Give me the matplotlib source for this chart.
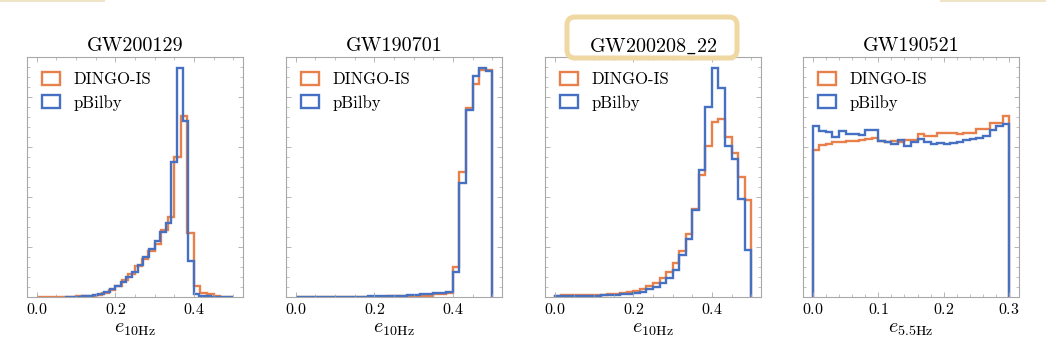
import numpy as np
import matplotlib
matplotlib.use("Agg")
import matplotlib.pyplot as plt
from matplotlib.patches import FancyBboxPatch, Rectangle, Patch
from matplotlib.ticker import AutoMinorLocator
from matplotlib.transforms import IdentityTransform

plt.rcParams["font.family"] = "serif"
plt.rcParams["font.serif"] = ["cmr10"]
plt.rcParams["mathtext.fontset"] = "cm"
plt.rcParams["axes.formatter.use_mathtext"] = True

# eccentricity posteriors, histogram heights per bin
events = ["GW200129", "GW190701", r"GW200208$\_$22", "GW190521"]
xlabels = [r"$e_{\rm 10Hz}$", r"$e_{\rm 10Hz}$", r"$e_{\rm 10Hz}$", r"$e_{\rm 5.5Hz}$"]
xticks = [[0.0, 0.2, 0.4], [0.0, 0.2, 0.4], [0.0, 0.2, 0.4], [0.0, 0.1, 0.2, 0.3]]

dingo_range = [(0.0, 0.5), (0.0, 0.5), (0.0, 0.5), (0.0, 0.3)]
bilby_range = [(0.071, 0.5), (0.0, 0.5), (0.0, 0.5), (0.0, 0.3)]

dingo_gw200129 = [0.3, 0.3, 0.3, 0.3, 0.4, 0.5, 0.6, 0.8, 1.2, 2.2, 3.7, 6.8, 11.5, 17, 23,
                  31, 38, 46, 53, 67, 80, 140, 181, 64, 10.7, 4.3, 2.7, 0.8, 0.4, 0.3]
bilby_gw200129 = [0.2, 0.3, 0.5, 0.8, 1.3, 2.0, 3.3, 5.2, 8.0, 11.3, 15.5, 20, 25.5, 32.5, 40,
                  48, 56.5, 65, 74, 135.5, 229, 176, 36, 3.3, 1.3, 0.6, 0.4, 0.3, 0.2, 0.2]

dingo_gw190701 = [0.2, 0.2, 0.2, 0.2, 0.2, 0.2, 0.2, 0.3, 0.3, 0.3, 0.4, 0.4, 0.5, 0.5, 0.6,
                  0.7, 0.8, 1.0, 1.0, 1.2, 1.3, 2.7, 3.3, 3.7, 30, 124.7, 188.7, 212.7, 227, 227]
bilby_gw190701 = [0.3, 0.3, 0.3, 0.3, 0.3, 0.4, 0.4, 0.4, 0.5, 0.5, 0.5, 0.6, 0.7, 0.8, 1.0,
                  1.2, 1.4, 1.6, 2.0, 3.0, 3.3, 3.7, 4.5, 5.3, 25.3, 114.3, 187, 221.3, 228.7, 226]

dingo_gw200208 = [1.5, 1.6, 1.7, 1.8, 2.0, 2.1, 2.3, 2.5, 2.8, 3.2, 3.7, 4.7, 6.0, 7.7, 11,
                  14.3, 19.3, 25.3, 33.7, 46, 63, 88, 122, 151, 175, 178.5, 160.5, 144.5, 120, 97]
bilby_gw200208 = [0.8, 0.8, 0.9, 1.0, 1.1, 1.2, 1.4, 1.6, 1.9, 2.3, 2.7, 3.3, 4.3, 5.3, 7.7,
                  10.3, 13.7, 19.3, 27, 42, 58, 87, 127, 190, 229, 209.5, 151, 138, 98.5, 47]

dingo_gw190521 = [147.5, 152, 153.5, 155, 155.5, 156.5, 156.5, 157, 158.5, 159, 156, 155.5, 156.5,
                  155.5, 157, 157, 162.7, 161, 161, 163.7, 163.7, 163.7, 162.7, 164.3, 164.3,
                  167.7, 167.7, 174.3, 174.3, 181]
bilby_gw190521 = [171, 166, 165.5, 160, 166, 163, 163, 162.5, 167, 167, 156.5, 155, 153.5, 157.5,
                  151.5, 155, 157.7, 155.3, 153, 154.3, 153.3, 154.3, 155.3, 157, 157.7, 158.7,
                  161, 167, 171, 172.7]

dingo = [dingo_gw200129, dingo_gw190701, dingo_gw200208, dingo_gw190521]
bilby = [bilby_gw200129, bilby_gw190701, bilby_gw200208, bilby_gw190521]

orange = "#E8804C"
blue = "#4671C3"
frame = "#a8a8a8"
lw = 1.7

fig = plt.figure(figsize=(10.46, 3.52), dpi=100)
lefts = [27, 286, 545, 803]

# open-box legend entries, like step histograms
handles = [Patch(fill=False, edgecolor=orange, lw=lw, label="DINGO-IS"),
           Patch(fill=False, edgecolor=blue, lw=lw, label="pBilby")]

for i in range(4):
    ax = fig.add_axes([lefts[i] / 1046, 55 / 352, 216 / 1046, 240 / 352])
    d = np.array(dingo[i])
    b = np.array(bilby[i])
    d_edges = np.linspace(*dingo_range[i], len(d) + 1)
    b_edges = np.linspace(*bilby_range[i], len(b) + 1)
    ax.stairs(d, d_edges, color=orange, lw=lw)
    ax.stairs(b, b_edges, color=blue, lw=lw)
    if i == 3:
        ax.set_ylim(0, 1.326 * max(d.max(), b.max()))

    ax.set_xticks(xticks[i])
    ax.xaxis.set_minor_locator(AutoMinorLocator())
    ax.yaxis.set_minor_locator(AutoMinorLocator())
    ax.tick_params(which="both", direction="in", top=True, right=True, color=frame,
                   labelleft=False, labelsize=11.5)
    ax.tick_params(which="major", length=3.5, width=0.6)
    ax.tick_params(which="minor", length=2, width=0.5)
    for s in ax.spines.values():
        s.set_color(frame)
        s.set_linewidth(0.8)

    ax.set_xlabel(xlabels[i], fontsize=14.5, labelpad=2)
    ax.set_title(events[i], fontsize=14.5, pad=4)
    ax.legend(handles=handles, loc="upper left", frameon=False, fontsize=12,
              handlelength=1.1, handleheight=0.8, handletextpad=0.8, labelspacing=0.45)

    if i == 2:
        # highlight around the third event name
        box = FancyBboxPatch((567, 294), 170, 41, boxstyle="round,pad=0,rounding_size=8",
                             transform=IdentityTransform(), fc="white", ec="#EFD8A2",
                             lw=3.6, clip_on=False, zorder=2.8)
        ax.add_artist(box)

# edges of neighbouring highlights along the top
fig.patches.append(Rectangle((0, 350 / 352), 105 / 1046, 2 / 352, transform=fig.transFigure,
                             color="#EFE3C8", lw=0))
fig.patches.append(Rectangle((940 / 1046, 350 / 352), 106 / 1046, 2 / 352,
                             transform=fig.transFigure, color="#EFE3C8", lw=0))

fig.savefig("out.png", dpi=100)
